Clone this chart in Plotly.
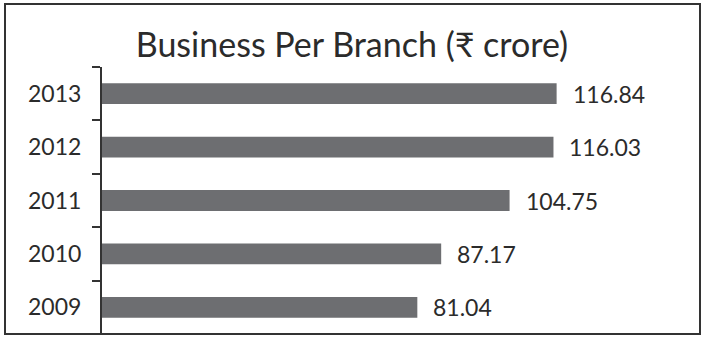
import plotly.graph_objects as go

years = ["2009", "2010", "2011", "2012", "2013"]
business_per_branch = [81.04, 87.17, 104.75, 116.03, 116.84]
title_text = "Business Per Branch (₹ crore)"

BAR_COLOR = "#6d6e71"
TEXT_COLOR = "#2b2b2b"
FONT = "Lato, 'Noto Sans', 'DejaVu Sans', sans-serif"

fig = go.Figure(
    go.Bar(
        x=business_per_branch,
        y=years,
        orientation="h",
        width=0.39,
        marker=dict(color=BAR_COLOR, line=dict(width=0)),
        hoverinfo="skip",
    )
)

# value labels to the right of each bar (category axis positions by index)
for i, v in enumerate(business_per_branch):
    fig.add_annotation(
        x=v, y=i, xref="x", yref="y",
        text=f"{v:.2f}", showarrow=False,
        xanchor="left", yanchor="middle", xshift=14,
        font=dict(family=FONT, size=23, color=TEXT_COLOR),
    )

W, H = 704, 338
ML, MR, MT, MB = 102, 15, 67, 4
plot_w = W - ML - MR
plot_h = H - MT - MB

def px_to_paper_x(px):
    return (px - ML) / plot_w

def px_to_paper_y(py):
    return (H - MB - py) / plot_h

# outer frame
fig.add_shape(
    type="rect", xref="paper", yref="paper",
    x0=px_to_paper_x(5), x1=px_to_paper_x(700),
    y0=px_to_paper_y(334), y1=px_to_paper_y(4),
    line=dict(color="#333333", width=2), fillcolor="rgba(0,0,0,0)",
    layer="above",
)

fig.update_layout(
    width=W, height=H,
    margin=dict(l=ML, r=MR, t=MT, b=MB),
    paper_bgcolor="white", plot_bgcolor="white",
    showlegend=False,
    title=dict(
        text=title_text, x=0.5, xref="container", xanchor="center",
        y=1 - 45 / H, yref="container", yanchor="middle",
        font=dict(family=FONT, size=34, color=TEXT_COLOR),
    ),
    xaxis=dict(
        range=[0, plot_w / 3.891], visible=False, fixedrange=True,
    ),
    yaxis=dict(
        type="category", categoryorder="array", categoryarray=years,
        range=[-0.5, 4.5],
        showline=True, linecolor="#333333", linewidth=2,
        ticks="outside", tickson="boundaries", ticklen=8, tickwidth=2,
        tickcolor="#333333",
        ticklabelstandoff=14,
        tickfont=dict(family=FONT, size=23, color=TEXT_COLOR),
        showgrid=False, zeroline=False, fixedrange=True,
    ),
)

fig.write_html("out.html")
